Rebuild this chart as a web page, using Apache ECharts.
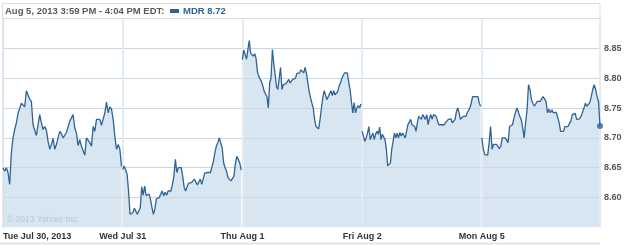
<!DOCTYPE html>
<html>
<head>
<meta charset="utf-8">
<script src="https://cdn.jsdelivr.net/npm/echarts@6/dist/echarts.min.js"></script>
<style>
html,body{margin:0;padding:0;background:#fff;}
#chart{width:625px;height:245px;}
</style>
</head>
<body>
<div id="chart"></div>
<script>
// ---- data ----
const dayLabels = ['Tue Jul 30, 2013', 'Wed Jul 31', 'Thu Aug 1', 'Fri Aug 2', 'Mon Aug 5'];
const headerText = 'Aug 5, 2013 3:59 PM - 4:04 PM EDT:';
const ticker = 'MDR';

const tue = [8.650,8.644,8.650,8.642,8.622,8.675,8.700,8.714,8.725,8.741,8.741,8.758,8.760,8.752,8.779,8.772,8.765,8.761,8.722,8.719,8.704,8.722,8.739,8.725,8.714,8.719,8.713,8.694,8.681,8.689,8.699,8.681,8.689,8.700,8.711,8.707,8.700,8.700,8.709,8.711,8.728,8.731,8.739,8.717,8.708,8.687,8.697,8.686,8.685,8.671,8.700,8.701,8.692,8.686,8.719,8.711,8.731,8.731,8.731,8.721,8.719,8.742,8.760,8.742,8.752,8.748,8.731,8.703,8.681,8.689,8.681,8.652];
const wed = [8.647,8.653,8.654,8.639,8.611,8.572,8.571,8.575,8.582,8.581,8.572,8.571,8.583,8.618,8.604,8.619,8.603,8.602,8.606,8.597,8.583,8.572,8.581,8.598,8.600,8.600,8.606,8.611,8.603,8.609,8.604,8.611,8.608,8.611,8.622,8.636,8.664,8.642,8.650,8.650,8.650,8.636,8.617,8.611,8.618,8.624,8.621,8.625,8.624,8.631,8.631,8.621,8.622,8.631,8.622,8.631,8.641,8.642,8.642,8.642,8.642,8.643,8.661,8.675,8.686,8.692,8.700,8.700,8.683,8.658,8.650,8.644,8.633,8.631,8.628,8.628,8.636,8.656,8.669,8.664,8.658,8.646];
const thu = [8.831,8.847,8.850,8.832,8.831,8.863,8.842,8.841,8.837,8.841,8.833,8.811,8.803,8.804,8.794,8.787,8.778,8.776,8.769,8.750,8.792,8.800,8.848,8.825,8.806,8.786,8.781,8.781,8.818,8.781,8.789,8.792,8.791,8.792,8.798,8.792,8.791,8.798,8.800,8.800,8.808,8.811,8.809,8.814,8.811,8.809,8.818,8.808,8.792,8.778,8.767,8.758,8.750,8.731,8.719,8.717,8.715,8.731,8.750,8.767,8.779,8.772,8.764,8.769,8.767,8.779,8.771,8.779,8.772,8.775,8.778,8.787,8.792,8.800,8.803,8.809,8.810,8.809,8.794,8.781,8.761,8.742,8.759,8.742,8.750,8.754,8.750,8.757];
const fri = [8.711,8.703,8.694,8.700,8.708,8.719,8.697,8.703,8.708,8.697,8.706,8.711,8.706,8.718,8.697,8.706,8.709,8.697,8.681,8.653,8.653,8.658,8.681,8.694,8.708,8.700,8.708,8.700,8.709,8.703,8.708,8.711,8.700,8.711,8.722,8.725,8.731,8.722,8.725,8.719,8.711,8.725,8.736,8.739,8.731,8.739,8.736,8.731,8.739,8.722,8.733,8.739,8.731,8.739,8.739,8.736,8.728,8.722,8.725,8.722,8.725,8.722,8.726,8.725,8.731,8.729,8.732,8.725,8.722,8.731,8.744,8.750,8.742,8.731,8.733,8.736,8.733,8.736,8.742,8.744,8.750,8.758,8.769,8.768,8.769,8.771,8.769,8.758,8.753];
const mon = [8.700,8.681,8.672,8.669,8.671,8.692,8.719,8.681,8.689,8.692,8.689,8.689,8.682,8.686,8.700,8.700,8.700,8.700,8.692,8.719,8.719,8.722,8.733,8.742,8.750,8.744,8.736,8.731,8.717,8.700,8.725,8.747,8.789,8.781,8.764,8.758,8.753,8.756,8.761,8.761,8.761,8.764,8.769,8.771,8.761,8.742,8.748,8.742,8.747,8.742,8.744,8.743,8.742,8.725,8.711,8.711,8.711,8.719,8.719,8.719,8.722,8.728,8.739,8.736,8.741,8.731,8.732,8.732,8.736,8.743,8.750,8.758,8.753,8.756,8.759,8.769,8.781,8.789,8.781,8.769,8.761,8.720];

const yMin = 8.55, yMax = 8.90, yStep = 0.05;

// ---- build series data ----
const days = [tue, wed, thu, fri, mon];
const X_MAX = 4.987;
const seriesData = [];
days.forEach((arr, d) => {
  const span = d === days.length - 1 ? X_MAX - d : 0.99;
  arr.forEach((v, i) => seriesData.push([d + span * i / (arr.length - 1), v]));
  if (d < days.length - 1) seriesData.push([d + 0.995, '-']);
});
const last = mon[mon.length - 1];
const lastPoint = [X_MAX, last];

const LINE = '#2f6394';
const FONT = 'Liberation Sans, Arial, sans-serif';

const chart = echarts.init(document.getElementById('chart'), null, {renderer: 'canvas'});
chart.setOption({
  animation: false,
  backgroundColor: '#ffffff',
  grid: {left: 2.5, right: 25, top: 18.5, bottom: 17.6, containLabel: false},
  xAxis: {
    type: 'value', min: 0, max: X_MAX, interval: 1, z: 3,
    axisLine: {show: false}, axisTick: {show: false},
    splitLine: {show: true, lineStyle: {color: '#e3ebf2', width: 2}},
    axisLabel: {
      show: true, margin: 5, color: '#333', fontFamily: FONT, fontWeight: 'bold', fontSize: 9,
      showMaxLabel: false, alignMinLabel: 'left',
      formatter: v => { const i = Math.round(v); return (Math.abs(v - i) < 1e-6 && dayLabels[i]) ? dayLabels[i] : ''; }
    }
  },
  yAxis: {
    type: 'value', position: 'right', min: yMin, max: yMax, interval: yStep, z: 3,
    axisLine: {show: true, lineStyle: {color: '#d5e0ea', width: 1}},
    axisTick: {show: false},
    splitLine: {show: true, lineStyle: {color: ['rgba(0,0,0,0)', '#c9d7e3', '#c9d7e3', '#c9d7e3', '#c9d7e3', '#c9d7e3', '#c9d7e3', '#c9d7e3'], width: 1}},
    axisLabel: {
      margin: 4, color: '#555', fontFamily: FONT, fontWeight: 'bold', fontSize: 9,
      formatter: v => (v < yMin + 0.025 || v > yMax - 0.025) ? '' : v.toFixed(2)
    }
  },
  series: [
    {
      type: 'line', data: seriesData, z: 1, showSymbol: false, silent: true,
      lineStyle: {width: 0, opacity: 0},
      areaStyle: {color: '#d8e6f1', opacity: 1}
    },
    {
      type: 'line', data: seriesData, z: 5, showSymbol: false, silent: true,
      lineStyle: {color: LINE, width: 1.3}
    },
    {
      type: 'scatter', data: [lastPoint], z: 6, symbol: 'circle', symbolSize: 6,
      itemStyle: {color: LINE}
    }
  ],
  graphic: [
    {type: 'rect', z: 10, shape: {x: 2.5, y: 3.5, width: 597.5, height: 15}, style: {fill: '#ffffff', stroke: '#dcdcdc', lineWidth: 1}},
    {type: 'text', z: 11, x: 5, y: 11, style: {text: headerText, fill: '#5a5a5a', font: 'bold 9.5px ' + FONT, textVerticalAlign: 'middle'}},
    {type: 'rect', z: 11, shape: {x: 170, y: 9, width: 9, height: 4}, style: {fill: LINE}},
    {type: 'text', z: 11, x: 183, y: 11, style: {text: ticker + ' ' + last.toFixed(2), fill: LINE, font: 'bold 9.5px ' + FONT, textVerticalAlign: 'middle'}},
    {type: 'text', z: 11, x: 7, y: 220, style: {text: '\u00a9 2013 Yahoo! Inc.', fill: '#b9c9d6', font: '8.5px ' + FONT, textVerticalAlign: 'middle'}},
    {type: 'rect', z: 11, shape: {x: 0, y: 242.5, width: 600, height: 2}, style: {fill: '#e4e4e4'}}
  ]
});
</script>
</body>
</html>
